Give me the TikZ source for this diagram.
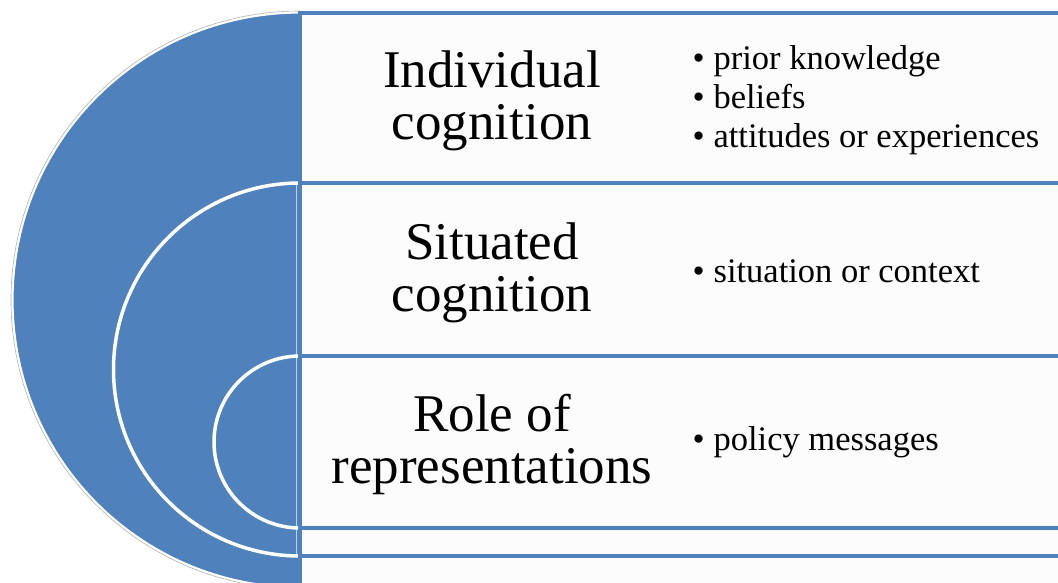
\documentclass[tikz,border=0pt]{standalone}
\usepackage{fontspec}
\setmainfont{Liberation Serif}
\definecolor{accent}{HTML}{4F81BD}
\definecolor{paper}{HTML}{FCFCFC}

\begin{document}
\begin{tikzpicture}[x=1pt,y=1pt,
  band/.style={draw=accent, line width=3.5pt, fill=paper},
  heading/.style={font=\fontsize{53}{52}\selectfont, align=center},
  points/.style={font=\fontsize{34.5}{39}\selectfont, align=left, anchor=west}]
  \useasboundingbox (0,0) rectangle (1058,582);
  \clip (0,0) rectangle (1058,582);

  % big half disc with its faint rim
  \draw[black!30, line width=0.6pt] (300,571) arc[start angle=90, end angle=270, radius=289];
  \filldraw[fill=accent, draw=white, line width=1.2pt]
    (300,569) arc[start angle=90, end angle=270, radius=287] -- cycle;

  % inner rings
  \draw[white!65!accent, line width=0.6pt] (296.5,399) -- (296.5,26);
  \draw[white, line width=3.5pt] (300,399) arc[start angle=90, end angle=270, radius=186.5];
  \draw[white, line width=3.5pt] (300,226) arc[start angle=90, end angle=270, radius=86];

  % bands, top to bottom
  \draw[band] (300,399) rectangle (1080,569);
  \draw[band] (300,226) rectangle (1080,399);
  \draw[band] (300,54) rectangle (1080,226);
  \draw[band] (300,26) rectangle (1080,54);
  \draw[band] (300,-20) rectangle (1080,26);

  \node[heading] (indiv) at (492,481) {Individual\\cognition};
  \node[heading] (situ) at (492,309.5) {Situated\\cognition};
  \node[heading] (repr) at (492,138) {Role of\\representations};

  \node[points] (indivpts) at (689,482)
    {\textbullet\hspace{9pt}prior knowledge\\
     \textbullet\hspace{9pt}beliefs\\
     \textbullet\hspace{9pt}attitudes or experiences};
  \node[points] (situpts) at (689,311) {\textbullet\hspace{9pt}situation or context};
  \node[points] (reprpts) at (689,139.5) {\textbullet\hspace{9pt}policy messages};
\end{tikzpicture}
\end{document}
